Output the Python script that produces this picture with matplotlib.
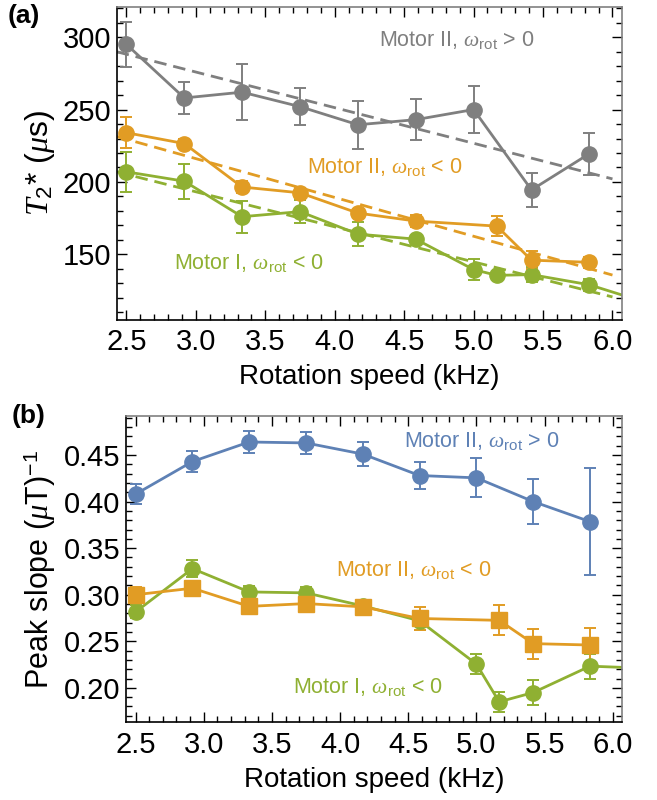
import numpy as np
import matplotlib
matplotlib.use("Agg")
import matplotlib.pyplot as plt
from matplotlib.ticker import MultipleLocator

plt.rcParams['font.family'] = ['Liberation Sans', 'DejaVu Sans']
plt.rcParams['mathtext.fontset'] = 'custom'
plt.rcParams['mathtext.rm'] = 'Liberation Sans'
plt.rcParams['mathtext.it'] = 'Liberation Serif:italic'
plt.rcParams['mathtext.bf'] = 'Liberation Sans:bold'

# ---------------- data ----------------
# Panel (a): T2* (us) vs rotation speed (kHz)
a_gray_x = [2.5, 2.917, 3.333, 3.75, 4.167, 4.583, 5.0, 5.417, 5.833]
a_gray_y = [295, 258, 262, 252, 239.5, 243, 250, 194.5, 219.5]
a_gray_e = [15.5, 11, 19.5, 13, 16.5, 14, 16, 11.5, 14.5]

a_orange_x = [2.5, 2.917, 3.333, 3.75, 4.167, 4.583, 5.167, 5.417, 5.833]
a_orange_y = [234, 226.5, 196.5, 192.5, 178.5, 173, 169.5, 146, 144.5]
a_orange_e = [10.6, 3, 4, 3, 3, 4, 7, 6, 4]

a_green_x = [2.5, 2.917, 3.333, 3.75, 4.167, 4.583, 5.0, 5.167, 5.417, 5.833, 6.25]
a_green_y = [207, 200.5, 176, 179.5, 164, 160.5, 139.5, 135.5, 136, 129, 116.5]
a_green_e = [14, 12, 11, 8, 8, 2, 7, 2, 5, 4, 0]

# linear fits  y = a + b*x
fit_gray = (349.7, -24.6)
fit_orange = (296.5, -26.8)
fit_green = (265.8, -24.2)

# Panel (b): peak slope (uT)^-1 vs rotation speed (kHz)
b_blue_x = [2.5, 2.917, 3.333, 3.75, 4.167, 4.583, 5.0, 5.417, 5.833]
b_blue_y = [0.408, 0.443, 0.464, 0.463, 0.451, 0.428, 0.4255, 0.400, 0.3785]
b_blue_e = [0.0105, 0.011, 0.012, 0.012, 0.013, 0.014, 0.021, 0.024, 0.0575]

b_orange_x = [2.5, 2.917, 3.333, 3.75, 4.167, 4.583, 5.167, 5.417, 5.833]
b_orange_y = [0.300, 0.307, 0.2875, 0.2905, 0.287, 0.2745, 0.2725, 0.2475, 0.246]
b_orange_e = [0.008, 0.006, 0.005, 0.005, 0.006, 0.012, 0.016, 0.016, 0.018]

b_green_x = [2.5, 2.917, 3.333, 3.75, 4.167, 4.583, 5.0, 5.167, 5.417, 5.833, 6.25]
b_green_y = [0.2815, 0.328, 0.303, 0.302, 0.288, 0.272, 0.2255, 0.185, 0.195, 0.2233, 0.221]
b_green_e = [0.007, 0.009, 0.006, 0.006, 0.005, 0.010, 0.011, 0.011, 0.0135, 0.0135, 0]

x_ticks = [2.5, 3.0, 3.5, 4.0, 4.5, 5.0, 5.5, 6.0]
a_yticks = [150, 200, 250, 300]
b_yticks = [0.20, 0.25, 0.30, 0.35, 0.40, 0.45]

GRAY = '#7f7f7f'
ORANGE = '#e19c24'
GREEN = '#8fb032'
BLUE = '#5e81b5'

fig = plt.figure(figsize=(6.57, 8.0), dpi=100)
axa = fig.add_axes([0.1776, 0.6006, 0.769, 0.391])
axb = fig.add_axes([0.1918, 0.0971, 0.755, 0.383])

XLIM = (2.43, 6.068)

def style(ax, ymin, yticks, fmt):
    ax.set_xlim(*XLIM)
    ax.set_xticks(x_ticks)
    ax.set_xticklabels([f"{t:.1f}" for t in x_ticks])
    ax.xaxis.set_minor_locator(MultipleLocator(0.1))
    ax.set_yticks(yticks)
    ax.set_yticklabels([fmt(t) for t in yticks])
    ax.yaxis.set_minor_locator(MultipleLocator(ymin))
    ax.tick_params(which='both', direction='in', top=True, right=True,
                   labelsize=21, width=1.0)
    ax.tick_params(which='major', length=7)
    ax.tick_params(which='minor', length=4)
    ax.tick_params(axis='x', which='both', pad=6)
    ax.tick_params(axis='y', which='both', pad=4)
    for s in ['top', 'right']:
        ax.spines[s].set_color('#808080')
        ax.spines[s].set_linewidth(1.2)
    for s in ['left', 'bottom']:
        ax.spines[s].set_color('black')
        ax.spines[s].set_linewidth(1.2)
    ax.set_xlabel('Rotation speed (kHz)', fontsize=20, labelpad=6)

ekw = dict(lw=2.0, elinewidth=1.4, capsize=4.5, capthick=1.4)

# ---------------- panel (a) ----------------
for xs, ys, es, col in [(a_gray_x, a_gray_y, a_gray_e, GRAY),
                        (a_green_x, a_green_y, a_green_e, GREEN),
                        (a_orange_x, a_orange_y, a_orange_e, ORANGE)]:
    axa.errorbar(xs, ys, yerr=es, fmt='o-', color=col, ms=11, **ekw)

xf = np.array([XLIM[0], 6.0])
for (a0, b0), col in [(fit_gray, GRAY), (fit_orange, ORANGE), (fit_green, GREEN)]:
    axa.plot(xf, a0 + b0 * xf, ls=(0, (4.5, 2.5)), color=col, lw=2.0)

style(axa, 10, a_yticks, lambda t: f"{t:d}")
axa.set_ylim(105, 321)
axa.set_ylabel(r'$T_2$* ($\mu$s)', fontsize=23, labelpad=4)

tk = dict(fontsize=15.5, ha='center', va='center')
axa.text(4.875, 298, r'Motor II, $\omega_{\mathrm{rot}}$ > 0', color=GRAY, **tk)
axa.text(4.36, 210, r'Motor II, $\omega_{\mathrm{rot}}$ < 0', color=ORANGE, **tk)
axa.text(3.38, 144, r'Motor I, $\omega_{\mathrm{rot}}$ < 0', color=GREEN, **tk)

# ---------------- panel (b) ----------------
axb.errorbar(b_blue_x, b_blue_y, yerr=b_blue_e, fmt='o-', color=BLUE, ms=11, **ekw)
axb.errorbar(b_green_x, b_green_y, yerr=b_green_e, fmt='o-', color=GREEN, ms=11, **ekw)
axb.errorbar(b_orange_x, b_orange_y, yerr=b_orange_e, fmt='s-', color=ORANGE, ms=12, **ekw)

style(axb, 0.01, b_yticks, lambda t: f"{t:.2f}")
axb.set_ylim(0.163, 0.492)
axb.set_ylabel(r'Peak slope ($\mu$T)$^{-1}$', fontsize=22, labelpad=4)

axb.text(5.036, 0.4655, r'Motor II, $\omega_{\mathrm{rot}}$ > 0', color=BLUE, **tk)
axb.text(4.54, 0.3262, r'Motor II, $\omega_{\mathrm{rot}}$ < 0', color=ORANGE, **tk)
axb.text(4.205, 0.2011, r'Motor I, $\omega_{\mathrm{rot}}$ < 0', color=GREEN, **tk)

fig.text(8 / 657, 1 - 16 / 800, '(a)', fontsize=19, fontweight='bold', va='center', ha='left')
fig.text(12 / 657, 1 - 416 / 800, '(b)', fontsize=19, fontweight='bold', va='center', ha='left')

fig.savefig('out.png', dpi=100)
